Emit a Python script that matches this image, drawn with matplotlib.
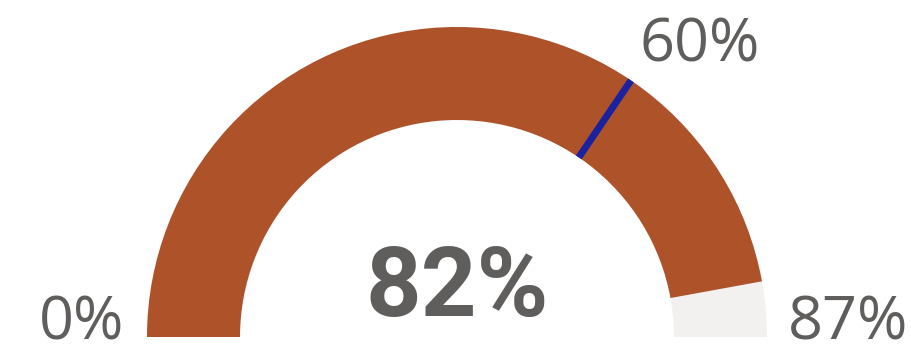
import matplotlib.pyplot as plt
from matplotlib.patches import Wedge
import numpy as np

# gauge values
min_val = 0
max_val = 87
value = 82
target = 60

fill_color = '#ad5229'
track_color = '#f2f1f0'
target_color = '#1a22a0'
text_color = '#605e5c'

fig = plt.figure(figsize=(9.12, 3.49), dpi=100)
ax = fig.add_axes([0, 0, 1, 1])
ax.set_xlim(0, 912)
ax.set_ylim(0, 349)
ax.set_aspect('equal')
ax.axis('off')

cx, cy = 457, 12
r_out, r_in = 310, 217

def ang(v):
    return 180 * (1 - (v - min_val) / (max_val - min_val))

ax.add_patch(Wedge((cx, cy), r_out, 0, 180, width=r_out - r_in, color=track_color, lw=0))
ax.add_patch(Wedge((cx, cy), r_out, ang(value), 180, width=r_out - r_in, color=fill_color, lw=0))

t = np.radians(ang(target))
ax.plot([cx + r_in * np.cos(t), cx + r_out * np.cos(t)],
        [cy + r_in * np.sin(t), cy + r_out * np.sin(t)],
        color=target_color, lw=5, solid_capstyle='butt')

ax.text(cx, 33, f'{value}%', ha='center', va='baseline', fontsize=70,
        fontweight='bold', family='Roboto', color=text_color)
ax.text(82, 9, f'{min_val}%', ha='center', va='baseline', fontsize=44,
        family='Open Sans', color=text_color)
ax.text(848, 9, f'{max_val}%', ha='center', va='baseline', fontsize=44,
        family='Open Sans', color=text_color)
ax.text(700, 287, f'{target}%', ha='center', va='baseline', fontsize=44,
        family='Open Sans', color=text_color)

fig.savefig('out.png', dpi=100)
